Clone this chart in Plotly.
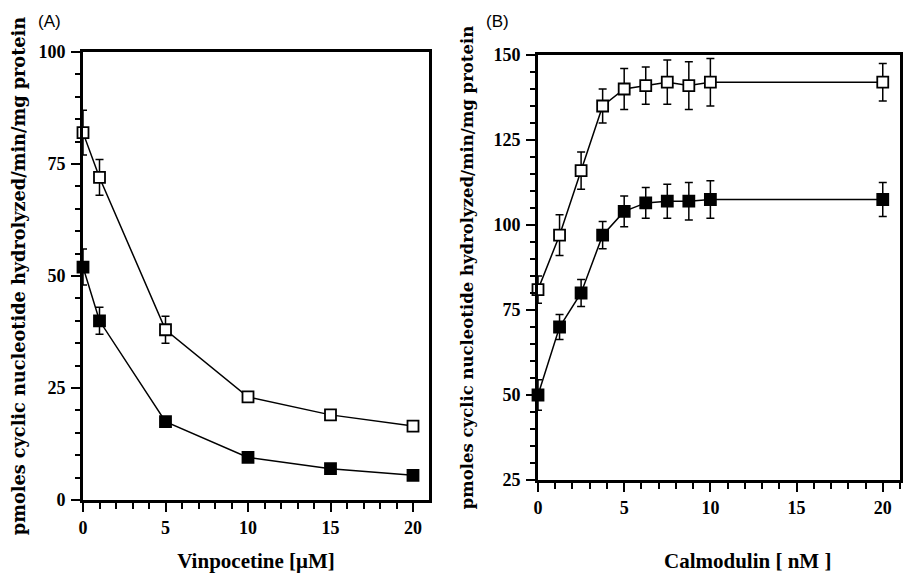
import plotly.graph_objects as go

# Panel A: Vinpocetine
vin_x = [0, 1, 5, 10, 15, 20]
vin_open = [82, 72, 38, 23, 19, 16.5]
vin_open_err = [5, 4, 3, 1, 1, 1]
vin_filled = [52, 40, 17.5, 9.5, 7, 5.5]
vin_filled_err = [4, 3, 1, 1, 1, 1]

# Panel B: Calmodulin
cam_x = [0, 1.25, 2.5, 3.75, 5, 6.25, 7.5, 8.75, 10, 20]
cam_open = [81, 97, 116, 135, 140, 141, 142, 141, 142, 142]
cam_open_err = [4, 6, 5.5, 5, 6, 5.5, 6.5, 7, 7, 5.5]
cam_filled = [50, 70, 80, 97, 104, 106.5, 107, 107, 107.5, 107.5]
cam_filled_err = [4.5, 3.7, 4, 4, 4.5, 4.5, 5, 5.5, 5.5, 5]

ytitle = "pmoles cyclic nucleotide hydrolyzed/min/mg protein"
serif = "Liberation Serif"

W, H = 904, 573


def px_dom(a, b, total):
    return [a / total, b / total]


def ydom(top, bottom):
    return [(H - bottom) / H, (H - top) / H]


def trace(x, y, err, filled, xa, ya):
    return go.Scatter(
        x=x, y=y, xaxis=xa, yaxis=ya, mode="lines+markers",
        line=dict(color="black", width=1.5),
        marker=dict(symbol="square", size=11,
                    color="black" if filled else "white",
                    line=dict(color="black", width=1.8)),
        error_y=dict(type="data", array=err, visible=True, color="black",
                     thickness=1.5, width=4),
        cliponaxis=False, showlegend=False,
    )


fig = go.Figure()
fig.add_trace(trace(vin_x, vin_filled, vin_filled_err, True, "x", "y"))
fig.add_trace(trace(vin_x, vin_open, vin_open_err, False, "x", "y"))
fig.add_trace(trace(cam_x, cam_filled, cam_filled_err, True, "x2", "y2"))
fig.add_trace(trace(cam_x, cam_open, cam_open_err, False, "x2", "y2"))

tickfont = dict(family=serif, size=18, color="black", weight="bold")
axcommon = dict(showline=True, linecolor="black", linewidth=3, mirror=True,
                ticks="outside", ticklen=9, tickwidth=2, tickcolor="black",
                showgrid=False, zeroline=False, tickfont=tickfont,
                automargin=False)

fig.update_layout(
    width=W, height=H, margin=dict(l=0, r=0, t=0, b=0),
    paper_bgcolor="white", plot_bgcolor="white",
    xaxis=dict(domain=px_dom(83, 429, W), range=[0, 20.97], anchor="y",
               tickvals=[0, 5, 10, 15, 20],
               minor=dict(dtick=1, tick0=0, ticklen=6, tickwidth=2,
                          ticks="outside", tickcolor="black"),
               title=dict(text="Vinpocetine [μM]", standoff=21,
                          font=dict(family=serif, size=21, color="black",
                                    weight="bold")),
               **axcommon),
    yaxis=dict(domain=ydom(52, 500), range=[0, 100], anchor="x",
               tickvals=[0, 25, 50, 75, 100], ticklabelstandoff=2,
               minor=dict(dtick=5, tick0=0, ticklen=5, tickwidth=2,
                          ticks="outside", tickcolor="black"),
               title=dict(text=ytitle, standoff=9,
                          font=dict(family="DejaVu Serif", size=17.7,
                                    color="black", weight="bold")),
               **axcommon),
    xaxis2=dict(domain=px_dom(538, 900, W), range=[0, 21], anchor="y2",
                tickvals=[0, 5, 10, 15, 20],
                minor=dict(dtick=1, tick0=0, ticklen=6, tickwidth=2,
                           ticks="outside", tickcolor="black"),
                **axcommon),
    yaxis2=dict(domain=ydom(55, 480), range=[25, 150], anchor="x2",
                tickvals=[25, 50, 75, 100, 125, 150], ticklabelstandoff=2,
                minor=dict(dtick=5, tick0=0, ticklen=5, tickwidth=2,
                           ticks="outside", tickcolor="black"),
                title=dict(text=ytitle, standoff=16,
                           font=dict(family="DejaVu Serif", size=16.5,
                                     color="black", weight="bold")),
                **axcommon),
    annotations=[
        dict(text="(A)", x=49 / W, y=1 - 22 / H, xref="paper", yref="paper",
             xanchor="center", yanchor="middle", showarrow=False,
             font=dict(family="Liberation Sans", size=17, color="black")),
        dict(text="(B)", x=497 / W, y=1 - 22 / H, xref="paper", yref="paper",
             xanchor="center", yanchor="middle", showarrow=False,
             font=dict(family="Liberation Sans", size=17, color="black")),
        dict(text="Calmodulin [ nM ]", x=747 / W, y=1 - 561 / H,
             xref="paper", yref="paper", xanchor="center", yanchor="middle",
             showarrow=False,
             font=dict(family=serif, size=21, color="black", weight="bold")),
    ],
)

fig.write_html("out.html", config={"displayModeBar": False},
               post_script="document.body.style.margin='0px';")
